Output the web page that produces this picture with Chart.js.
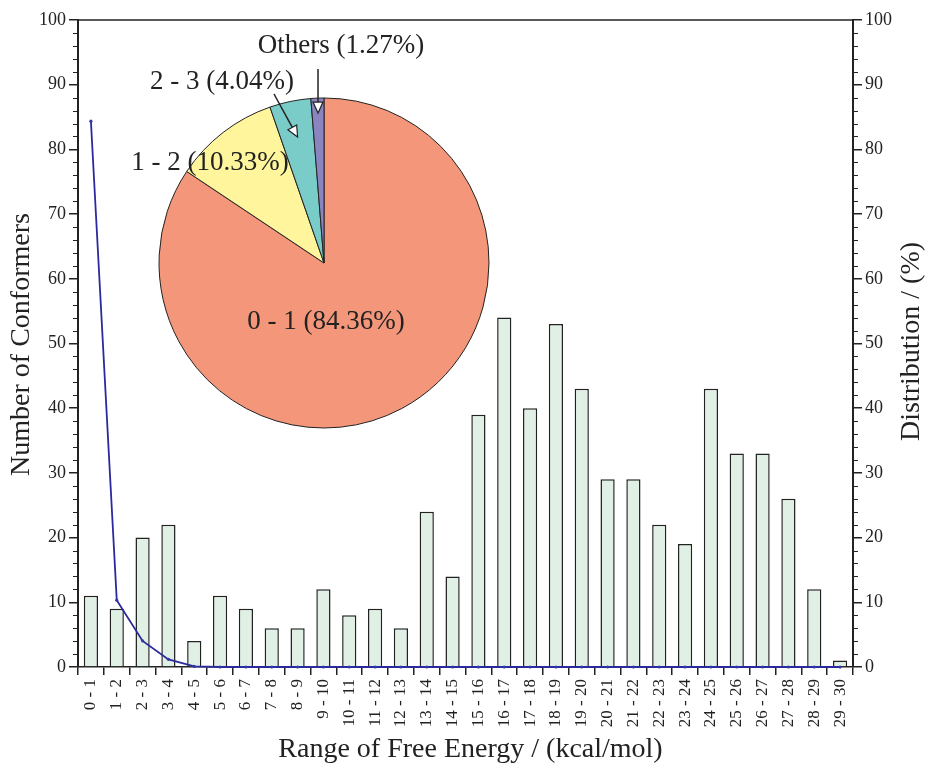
<!DOCTYPE html>
<html>
<head>
<meta charset="utf-8">
<script src="https://cdn.jsdelivr.net/npm/chart.js@4/dist/chart.umd.min.js"></script>
<style>
  html, body { margin: 0; padding: 0; background: #fff; }
  #wrap { position: relative; width: 927px; height: 766px; }
  #main { position: absolute; left: 0; top: 0; }
  #pie { position: absolute; left: 74px; top: 13px; }
</style>
</head>
<body>
<div id="wrap">
  <canvas id="main" width="927" height="766"></canvas>
  <canvas id="pie" width="500" height="500"></canvas>
</div>
<script>
// Free-energy bins (kcal/mol)
const energyRanges = ['0 - 1','1 - 2','2 - 3','3 - 4','4 - 5','5 - 6','6 - 7','7 - 8','8 - 9','9 - 10',
  '10 - 11','11 - 12','12 - 13','13 - 14','14 - 15','15 - 16','16 - 17','17 - 18','18 - 19','19 - 20',
  '20 - 21','21 - 22','22 - 23','23 - 24','24 - 25','25 - 26','26 - 27','27 - 28','28 - 29','29 - 30'];
// Number of conformers found in each bin
const conformerCounts = [11, 9, 20, 22, 4, 11, 9, 6, 6, 12, 8, 9, 6, 24, 14, 39, 54, 40, 53, 43,
  29, 29, 22, 19, 43, 33, 33, 26, 12, 1];
// Boltzmann distribution per bin (%)
const distributionPct = [84.36, 10.33, 4.04, 1.18, 0.09, 0, 0, 0, 0, 0, 0, 0, 0, 0, 0, 0, 0, 0, 0, 0,
  0, 0, 0, 0, 0, 0, 0, 0, 0, 0];
// Pie breakdown of the distribution
const pieLabels = ['0 - 1', '1 - 2', '2 - 3', 'Others'];
const pieShares = [84.36, 10.33, 4.04, 1.27];
const axisTicks = { min: 0, max: 100, major: 10, minor: 2 };

const SERIF = '"Liberation Serif", "Times New Roman", serif';
const INK = '#222';

// Frame line, minor ticks and axis titles
const frameAndTitles = {
  id: 'frameAndTitles',
  afterDraw(chart) {
    const { ctx, chartArea: { left, right, top, bottom } } = chart;
    const yl = chart.scales.y;
    ctx.save();
    ctx.strokeStyle = INK;
    ctx.lineWidth = 1.5;
    ctx.beginPath();
    ctx.moveTo(left, top); ctx.lineTo(right, top);
    ctx.stroke();
    ctx.lineWidth = 1.2;
    ctx.beginPath();
    for (let v = axisTicks.min; v <= axisTicks.max; v += axisTicks.minor) {
      if (v % axisTicks.major === 0) continue;
      const py = Math.round(yl.getPixelForValue(v)) + 0.5;
      ctx.moveTo(left - 5, py); ctx.lineTo(left, py);
      ctx.moveTo(right, py); ctx.lineTo(right + 5, py);
    }
    ctx.stroke();

    ctx.fillStyle = INK;
    ctx.font = `28px ${SERIF}`;
    ctx.textAlign = 'center';
    ctx.textBaseline = 'middle';
    ctx.fillText('Range of Free Energy / (kcal/mol)', (left + right) / 2 + 5, bottom + 83);
    const midY = (top + bottom) / 2;
    ctx.save();
    ctx.translate(left - 56, midY + 1);
    ctx.rotate(-Math.PI / 2);
    ctx.fillText('Number of Conformers', 0, 0);
    ctx.restore();
    ctx.save();
    ctx.translate(right + 59, midY - 2);
    ctx.rotate(-Math.PI / 2);
    ctx.fillText('Distribution / (%)', 0, 0);
    ctx.restore();
    ctx.restore();
  }
};

const tickFont = { family: SERIF, size: 18 };
const yScale = (position, width) => ({
  position,
  min: axisTicks.min,
  max: axisTicks.max,
  ticks: { stepSize: axisTicks.major, font: tickFont, color: INK, padding: 3 },
  grid: { drawOnChartArea: false, tickLength: 9, color: INK, lineWidth: 1.5 },
  border: { color: INK, width: 2 },
  afterFit(s) { s.width = width; }
});

new Chart(document.getElementById('main'), {
  data: {
    labels: energyRanges,
    datasets: [
      {
        type: 'line',
        data: distributionPct,
        yAxisID: 'y2',
        borderColor: '#2a2a9c',
        borderWidth: 1.8,
        pointRadius: 1.6,
        pointBackgroundColor: '#3535b0',
        pointBorderWidth: 0,
        tension: 0,
        clip: false,
        order: 0
      },
      {
        type: 'bar',
        data: conformerCounts,
        yAxisID: 'y',
        backgroundColor: '#e0f0e4',
        borderColor: INK,
        borderWidth: 1.5,
        barPercentage: 0.55,
        categoryPercentage: 1,
        order: 1
      }
    ]
  },
  options: {
    responsive: false,
    animation: false,
    devicePixelRatio: 1,
    layout: { padding: { top: 20, left: 0, right: 0, bottom: 0 } },
    plugins: { legend: { display: false }, tooltip: { enabled: false } },
    scales: {
      x: {
        type: 'category',
        offset: true,
        grid: { offset: true, drawOnChartArea: false, tickLength: 8, color: INK, lineWidth: 1.5 },
        border: { color: INK, width: 1.5 },
        ticks: { minRotation: 90, maxRotation: 90, autoSkip: false, font: { family: SERIF, size: 17 }, color: INK, padding: 4 },
        afterFit(s) { s.height = 99; }
      },
      y: yScale('left', 78),
      y2: yScale('right', 74)
    }
  },
  plugins: [frameAndTitles]
});

// Callout labels and arrows for the pie
const pieCallouts = {
  id: 'pieCallouts',
  afterDraw(chart) {
    const { ctx } = chart;
    const arcs = chart.getDatasetMeta(0).data;
    const cx = arcs[0].x, cy = arcs[0].y, r = arcs[0].outerRadius;
    const text = i => `${pieLabels[i]} (${pieShares[i].toFixed(2)}%)`;
    const midPoint = (arc, rad) => {
      const a = (arc.startAngle + arc.endAngle) / 2;
      return [cx + Math.cos(a) * rad, cy + Math.sin(a) * rad];
    };
    ctx.save();
    ctx.fillStyle = INK;
    ctx.font = `27px ${SERIF}`;
    ctx.textAlign = 'center';
    ctx.textBaseline = 'middle';
    ctx.fillText(text(0), cx + 2, cy + 59);
    ctx.fillText(text(1), cx - 114, cy - 100);
    ctx.fillText(text(2), cx - 102, cy - 181);
    ctx.fillText(text(3), cx + 17, cy - 217);

    const arrow = (sx, sy, tx, ty) => {
      const dx = tx - sx, dy = ty - sy, len = Math.hypot(dx, dy);
      const ux = dx / len, uy = dy / len;
      const bx = tx - ux * 11, by = ty - uy * 11;
      ctx.strokeStyle = INK;
      ctx.lineWidth = 1.5;
      ctx.beginPath(); ctx.moveTo(sx, sy); ctx.lineTo(bx, by); ctx.stroke();
      ctx.beginPath();
      ctx.moveTo(tx, ty);
      ctx.lineTo(bx - uy * 5, by + ux * 5);
      ctx.lineTo(bx + uy * 5, by - ux * 5);
      ctx.closePath();
      ctx.fillStyle = '#fff';
      ctx.fill();
      ctx.lineWidth = 1.2;
      ctx.stroke();
    };
    const [ox, oy] = midPoint(arcs[3], r - 15);
    arrow(ox, cy - 194, ox, oy);
    const [tx, ty] = midPoint(arcs[2], r * 0.78);
    arrow(cx - 50, cy - 169, tx, ty);
    ctx.restore();
  }
};

new Chart(document.getElementById('pie'), {
  type: 'pie',
  data: {
    labels: pieLabels,
    datasets: [{
      data: pieShares,
      backgroundColor: ['#f4967a', '#fff59c', '#7accc8', '#8a84c0'],
      borderColor: INK,
      borderWidth: 1
    }]
  },
  options: {
    responsive: false,
    animation: false,
    devicePixelRatio: 1,
    layout: { padding: 84.5 },
    plugins: { legend: { display: false }, tooltip: { enabled: false } }
  },
  plugins: [pieCallouts]
});
</script>
</body>
</html>
